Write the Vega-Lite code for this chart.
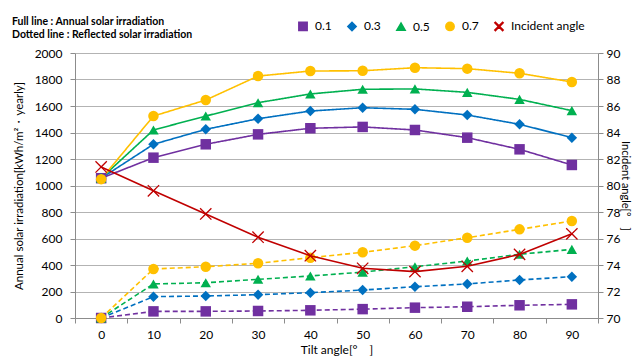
{
  "$schema": "https://vega.github.io/schema/vega-lite/v6.json",
  "autosize": {"type": "none"},
  "width": 523,
  "height": 265,
  "padding": {"left": 75, "top": 53, "right": 34, "bottom": 38},
  "background": "white",
  "config": {
    "font": "Lato",
    "view": {"stroke": null},
    "axis": {"labelFont": "Lato", "titleFont": "Lato", "labelFontSize": 12, "titleFontSize": 12, "labelColor": "#000", "titleColor": "#000", "titleFontWeight": "normal", "domainColor": "#8c8c8c", "tickColor": "#8c8c8c", "gridColor": "#b3b3b3"},
    "legend": {"labelFont": "Lato", "labelFontSize": 12, "labelColor": "#000"}
  },
  "title": {
    "text": ["Full line : Annual solar irradiation", "Dotted line : Reflected solar irradiation"],
    "anchor": "start",
    "frame": "group",
    "dx": -63,
    "dy": 36,
    "offset": 16,
    "fontSize": 10.5,
    "fontWeight": "bold",
    "font": "Lato",
    "lineHeight": 13,
    "color": "#000"
  },
  "datasets": {
    "irr": [
      {"tilt": 0, "series": "0.1", "type": "Annual", "value": 1055},
      {"tilt": 10, "series": "0.1", "type": "Annual", "value": 1210},
      {"tilt": 20, "series": "0.1", "type": "Annual", "value": 1311},
      {"tilt": 30, "series": "0.1", "type": "Annual", "value": 1386},
      {"tilt": 40, "series": "0.1", "type": "Annual", "value": 1432},
      {"tilt": 50, "series": "0.1", "type": "Annual", "value": 1442},
      {"tilt": 60, "series": "0.1", "type": "Annual", "value": 1419},
      {"tilt": 70, "series": "0.1", "type": "Annual", "value": 1361},
      {"tilt": 80, "series": "0.1", "type": "Annual", "value": 1273},
      {"tilt": 90, "series": "0.1", "type": "Annual", "value": 1155},
      {"tilt": 0, "series": "0.1", "type": "Reflected", "value": 0},
      {"tilt": 10, "series": "0.1", "type": "Reflected", "value": 50},
      {"tilt": 20, "series": "0.1", "type": "Reflected", "value": 50},
      {"tilt": 30, "series": "0.1", "type": "Reflected", "value": 53},
      {"tilt": 40, "series": "0.1", "type": "Reflected", "value": 58},
      {"tilt": 50, "series": "0.1", "type": "Reflected", "value": 67},
      {"tilt": 60, "series": "0.1", "type": "Reflected", "value": 78},
      {"tilt": 70, "series": "0.1", "type": "Reflected", "value": 85},
      {"tilt": 80, "series": "0.1", "type": "Reflected", "value": 96},
      {"tilt": 90, "series": "0.1", "type": "Reflected", "value": 103},
      {"tilt": 0, "series": "0.3", "type": "Annual", "value": 1055},
      {"tilt": 10, "series": "0.3", "type": "Annual", "value": 1311},
      {"tilt": 20, "series": "0.3", "type": "Annual", "value": 1424},
      {"tilt": 30, "series": "0.3", "type": "Annual", "value": 1504},
      {"tilt": 40, "series": "0.3", "type": "Annual", "value": 1562},
      {"tilt": 50, "series": "0.3", "type": "Annual", "value": 1587},
      {"tilt": 60, "series": "0.3", "type": "Annual", "value": 1575},
      {"tilt": 70, "series": "0.3", "type": "Annual", "value": 1532},
      {"tilt": 80, "series": "0.3", "type": "Annual", "value": 1462},
      {"tilt": 90, "series": "0.3", "type": "Annual", "value": 1361},
      {"tilt": 0, "series": "0.3", "type": "Reflected", "value": 0},
      {"tilt": 10, "series": "0.3", "type": "Reflected", "value": 161},
      {"tilt": 20, "series": "0.3", "type": "Reflected", "value": 166},
      {"tilt": 30, "series": "0.3", "type": "Reflected", "value": 176},
      {"tilt": 40, "series": "0.3", "type": "Reflected", "value": 191},
      {"tilt": 50, "series": "0.3", "type": "Reflected", "value": 211},
      {"tilt": 60, "series": "0.3", "type": "Reflected", "value": 236},
      {"tilt": 70, "series": "0.3", "type": "Reflected", "value": 257},
      {"tilt": 80, "series": "0.3", "type": "Reflected", "value": 287},
      {"tilt": 90, "series": "0.3", "type": "Reflected", "value": 312},
      {"tilt": 0, "series": "0.5", "type": "Annual", "value": 1055},
      {"tilt": 10, "series": "0.5", "type": "Annual", "value": 1419},
      {"tilt": 20, "series": "0.5", "type": "Annual", "value": 1524},
      {"tilt": 30, "series": "0.5", "type": "Annual", "value": 1625},
      {"tilt": 40, "series": "0.5", "type": "Annual", "value": 1691},
      {"tilt": 50, "series": "0.5", "type": "Annual", "value": 1726},
      {"tilt": 60, "series": "0.5", "type": "Annual", "value": 1729},
      {"tilt": 70, "series": "0.5", "type": "Annual", "value": 1703},
      {"tilt": 80, "series": "0.5", "type": "Annual", "value": 1650},
      {"tilt": 90, "series": "0.5", "type": "Annual", "value": 1565},
      {"tilt": 0, "series": "0.5", "type": "Reflected", "value": 0},
      {"tilt": 10, "series": "0.5", "type": "Reflected", "value": 257},
      {"tilt": 20, "series": "0.5", "type": "Reflected", "value": 266},
      {"tilt": 30, "series": "0.5", "type": "Reflected", "value": 292},
      {"tilt": 40, "series": "0.5", "type": "Reflected", "value": 317},
      {"tilt": 50, "series": "0.5", "type": "Reflected", "value": 346},
      {"tilt": 60, "series": "0.5", "type": "Reflected", "value": 387},
      {"tilt": 70, "series": "0.5", "type": "Reflected", "value": 430},
      {"tilt": 80, "series": "0.5", "type": "Reflected", "value": 481},
      {"tilt": 90, "series": "0.5", "type": "Reflected", "value": 518},
      {"tilt": 0, "series": "0.7", "type": "Annual", "value": 1048},
      {"tilt": 10, "series": "0.7", "type": "Annual", "value": 1524},
      {"tilt": 20, "series": "0.7", "type": "Annual", "value": 1645},
      {"tilt": 30, "series": "0.7", "type": "Annual", "value": 1826},
      {"tilt": 40, "series": "0.7", "type": "Annual", "value": 1864},
      {"tilt": 50, "series": "0.7", "type": "Annual", "value": 1866},
      {"tilt": 60, "series": "0.7", "type": "Annual", "value": 1889},
      {"tilt": 70, "series": "0.7", "type": "Annual", "value": 1882},
      {"tilt": 80, "series": "0.7", "type": "Annual", "value": 1847},
      {"tilt": 90, "series": "0.7", "type": "Annual", "value": 1781},
      {"tilt": 0, "series": "0.7", "type": "Reflected", "value": 0},
      {"tilt": 10, "series": "0.7", "type": "Reflected", "value": 370},
      {"tilt": 20, "series": "0.7", "type": "Reflected", "value": 387},
      {"tilt": 30, "series": "0.7", "type": "Reflected", "value": 413},
      {"tilt": 40, "series": "0.7", "type": "Reflected", "value": 455},
      {"tilt": 50, "series": "0.7", "type": "Reflected", "value": 496},
      {"tilt": 60, "series": "0.7", "type": "Reflected", "value": 546},
      {"tilt": 70, "series": "0.7", "type": "Reflected", "value": 606},
      {"tilt": 80, "series": "0.7", "type": "Reflected", "value": 669},
      {"tilt": 90, "series": "0.7", "type": "Reflected", "value": 732}
    ],
    "ang": [
      {"tilt": 0, "series": "Incident angle", "angle": 81.4},
      {"tilt": 10, "series": "Incident angle", "angle": 79.6},
      {"tilt": 20, "series": "Incident angle", "angle": 77.85},
      {"tilt": 30, "series": "Incident angle", "angle": 76.1},
      {"tilt": 40, "series": "Incident angle", "angle": 74.7},
      {"tilt": 50, "series": "Incident angle", "angle": 73.75},
      {"tilt": 60, "series": "Incident angle", "angle": 73.5},
      {"tilt": 70, "series": "Incident angle", "angle": 73.9},
      {"tilt": 80, "series": "Incident angle", "angle": 74.8},
      {"tilt": 90, "series": "Incident angle", "angle": 76.35}
    ]
  },
  "encoding": {
    "x": {
      "field": "tilt",
      "type": "ordinal",
      "sort": "ascending",
      "scale": {"type": "band", "paddingInner": 0, "paddingOuter": 0},
      "axis": {"title": "Tilt angle[°　]", "labelAngle": 0, "tickBand": "extent", "tickSize": 5, "labelPadding": 6, "titlePadding": 4, "grid": false}
    },
    "color": {
      "field": "series",
      "type": "nominal",
      "scale": {"domain": ["0.1", "0.3", "0.5", "0.7", "Incident angle"], "range": ["#7030A0", "#0070C0", "#00B050", "#FFC000", "#C00000"]},
      "legend": {"title": null, "orient": "none", "legendX": 222, "legendY": -33, "direction": "horizontal", "columnPadding": 12, "symbolSize": 70, "labelOffset": 6}
    },
    "shape": {
      "field": "series",
      "type": "nominal",
      "scale": {"domain": ["0.1", "0.3", "0.5", "0.7", "Incident angle"], "range": ["square", "diamond", "triangle-up", "circle", "M-1,-0.85L-0.85,-1L0,-0.15L0.85,-1L1,-0.85L0.15,0L1,0.85L0.85,1L0,0.15L-0.85,1L-1,0.85L-0.15,0Z"]},
      "legend": {"title": null}
    }
  },
  "layer": [
    {
      "data": {"name": "irr"},
      "encoding": {
        "y": {
          "field": "value",
          "type": "quantitative",
          "scale": {"domain": [0, 2000], "nice": false},
          "axis": {"title": "Annual solar irradiation[kWh/m²・yearly]", "format": "d", "values": [0, 200, 400, 600, 800, 1000, 1200, 1400, 1600, 1800, 2000], "tickSize": 5, "labelPadding": 8, "titlePadding": 10, "titleFontSize": 11.5}
        }
      },
      "layer": [
        {
          "mark": {"type": "line", "strokeWidth": 1.6},
          "encoding": {
            "detail": {"field": "type"},
            "strokeDash": {"field": "type", "type": "nominal", "scale": {"domain": ["Annual", "Reflected"], "range": [[1, 0], [5, 3]]}, "legend": null}
          }
        },
        {
          "mark": {"type": "point", "filled": true, "opacity": 1, "size": 110}
        }
      ]
    },
    {
      "data": {"name": "ang"},
      "encoding": {
        "y": {
          "field": "angle",
          "type": "quantitative",
          "scale": {"domain": [70, 90], "nice": false},
          "axis": {"orient": "right", "title": "Incident angle[°　]", "values": [70, 72, 74, 76, 78, 80, 82, 84, 86, 88, 90], "grid": false, "tickSize": 5, "labelPadding": 3, "titlePadding": 0, "titleFontSize": 11}
        }
      },
      "layer": [
        {"mark": {"type": "line", "strokeWidth": 1.6}},
        {"mark": {"type": "point", "filled": true, "opacity": 1, "size": 150}}
      ]
    }
  ],
  "resolve": {"scale": {"y": "independent"}, "axis": {"y": "independent"}}
}
